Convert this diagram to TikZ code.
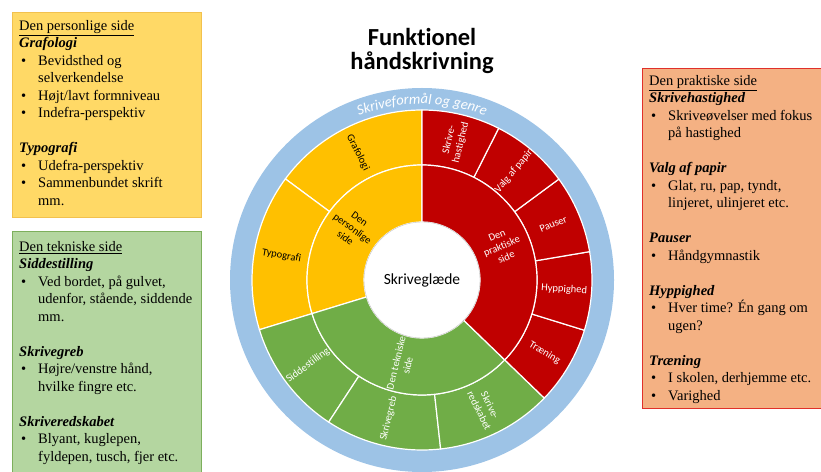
\documentclass[tikz,border=0pt]{standalone}
\usepackage{fontspec}
\setmainfont{Liberation Serif}
\newfontfamily\calibri[Ligatures=NoCommon]{Carlito}
\usetikzlibrary{positioning}
\usetikzlibrary{decorations.text}

\definecolor{ringblue}{HTML}{9DC3E6}
\definecolor{wedgeyellow}{HTML}{FFC000}
\definecolor{wedgegreen}{HTML}{70AD47}
\definecolor{wedgered}{HTML}{C00000}
\definecolor{boxyellow}{HTML}{FFD966}
\definecolor{boxyellowline}{HTML}{F2C14E}
\definecolor{boxgreen}{HTML}{B4D6A0}
\definecolor{boxgreenline}{HTML}{7DAF5C}
\definecolor{boxred}{HTML}{F4B183}
\definecolor{boxredline}{HTML}{E0302A}

\newcommand{\itm}{\makebox[19pt][l]{\hspace{2pt}\textbullet}}
\newcommand{\ind}{\hspace*{19pt}}
\newcommand{\hd}[1]{\textbf{\textit{#1}}}

\tikzset{
  sidebox/.style={line width=0.8pt, anchor=north west, inner sep=0pt},
  boxtext/.style={anchor=north west, inner sep=0pt, align=left, font=\fontsize{14.5}{17.5}\selectfont},
  wheellabel/.style={font=\calibri\fontsize{10.5}{12}\selectfont, align=center, inner sep=0pt},
}

\begin{document}
\begin{tikzpicture}[x=1pt,y=1pt]
\useasboundingbox (0,0) rectangle (821,471);

\node[sidebox, draw=boxyellowline, fill=boxyellow, minimum width=189pt, minimum height=205pt] (persbox) at (12,459) {};
\node[boxtext] (perstext) at ([xshift=7pt,yshift=-8pt]persbox.north west) {%
\underline{Den personlige side}\\
\hd{Grafologi}\\
\itm Bevidsthed og\\
\ind selverkendelse\\
\itm Højt/lavt formniveau\\
\itm Indefra-perspektiv\\[17.5pt]
\hd{Typografi}\\
\itm Udefra-perspektiv\\
\itm Sammenbundet skrift\\
\ind mm.};

\node[sidebox, draw=boxgreenline, fill=boxgreen, minimum width=189pt, minimum height=250pt] (teknbox) at (12,240) {};
\node[boxtext] (tekntext) at ([xshift=7pt,yshift=-10pt]teknbox.north west) {%
\underline{Den tekniske side}\\
\hd{Siddestilling}\\
\itm Ved bordet, på gulvet,\\
\ind udenfor, stående, siddende\\
\ind mm.\\[17.5pt]
\hd{Skrivegreb}\\
\itm Højre/venstre hånd,\\
\ind hvilke fingre etc.\\[17.5pt]
\hd{Skriveredskabet}\\
\itm Blyant, kuglepen,\\
\ind fyldepen, tusch, fjer etc.};

\node[sidebox, draw=boxredline, fill=boxred, minimum width=185pt, minimum height=340pt] (praksbox) at (642,403) {};
\node[boxtext] (prakstext) at ([xshift=7pt,yshift=-7pt]praksbox.north west) {%
\underline{Den praktiske side}\\
\hd{Skrivehastighed}\\
\itm Skriveøvelser med fokus\\
\ind på hastighed\\[17.5pt]
\hd{Valg af papir}\\
\itm Glat, ru, pap, tyndt,\\
\ind linjeret, ulinjeret etc.\\[17.5pt]
\hd{Pauser}\\
\itm Håndgymnastik\\[17.5pt]
\hd{Hyppighed}\\
\itm Hver time? Én gang om\\
\ind ugen?\\[17.5pt]
\hd{Træning}\\
\itm I skolen, derhjemme etc.\\
\itm Varighed};

\node[font=\calibri\bfseries\fontsize{24.5}{23.5}\selectfont, align=center] (title) at (422,420) {Funktionel\\håndskrivning};

\begin{scope}[shift={(422,191)}]
\fill[ringblue] (0,0) circle (192);
\path[decorate, decoration={text along path, text align=center, text color=white,
  text={|\calibri\itshape\fontsize{14.5}{14.5}\selectfont|Skriveformål og genre}}]
  (150:176) arc[start angle=150, end angle=30, radius=176];

% outer ring
\foreach \a/\b/\col/\tc/\txt [count=\i] in {
  90/143.5/wedgeyellow/black/Grafologi,
  143.5/197/wedgeyellow/black/Typografi,
  197/236.7/wedgegreen/white/Siddestilling,
  236.7/276.3/wedgegreen/white/Skrivegreb,
  276.3/316/wedgegreen/white/{Skrive-\\redskabet},
  316/342.8/wedgered/white/Træning,
  342.8/369.6/wedgered/white/Hyppighed,
  369.6/396.4/wedgered/white/Pauser,
  396.4/423.2/wedgered/white/Valg af papir,
  423.2/450/wedgered/white/{Skrive-\\hastighed}}
{
  \fill[\col, draw=white, line width=1.2pt] (\a:115) arc[start angle=\a, end angle=\b, radius=115]
    -- (\b:170) arc[start angle=\b, end angle=\a, radius=170] -- cycle;
  \pgfmathsetmacro\mid{mod((\a+\b)/2,360)}
  \pgfmathsetmacro\rot{ifthenelse(and(\mid>90,\mid<270),\mid-180,\mid)}
  \node[wheellabel, text=\tc, rotate=\rot] (outer\i) at (\mid:142.5) {\txt};
}

% inner ring
\foreach \a/\b/\col/\tc/\txt [count=\i] in {
  90/197/wedgeyellow/black/{Den\\personlige\\side},
  197/316/wedgegreen/white/{Den tekniske\\side},
  316/450/wedgered/white/{Den\\praktiske\\side}}
{
  \fill[\col, draw=white, line width=1.2pt] (\a:58) arc[start angle=\a, end angle=\b, radius=58]
    -- (\b:115) arc[start angle=\b, end angle=\a, radius=115] -- cycle;
  \pgfmathsetmacro\mid{mod((\a+\b)/2,360)}
  \pgfmathsetmacro\rot{ifthenelse(and(\mid>90,\mid<270),\mid-180,\mid)}
  \node[wheellabel, text=\tc, rotate=\rot] (inner\i) at (\mid:86.5) {\txt};
}

\node[circle, fill=white, draw=gray!50, minimum size=116pt, inner sep=0pt,
  font=\calibri\fontsize{15.5}{15.5}\selectfont] (glaede) at (0,0) {Skriveglæde};
\end{scope}
\end{tikzpicture}
\end{document}
